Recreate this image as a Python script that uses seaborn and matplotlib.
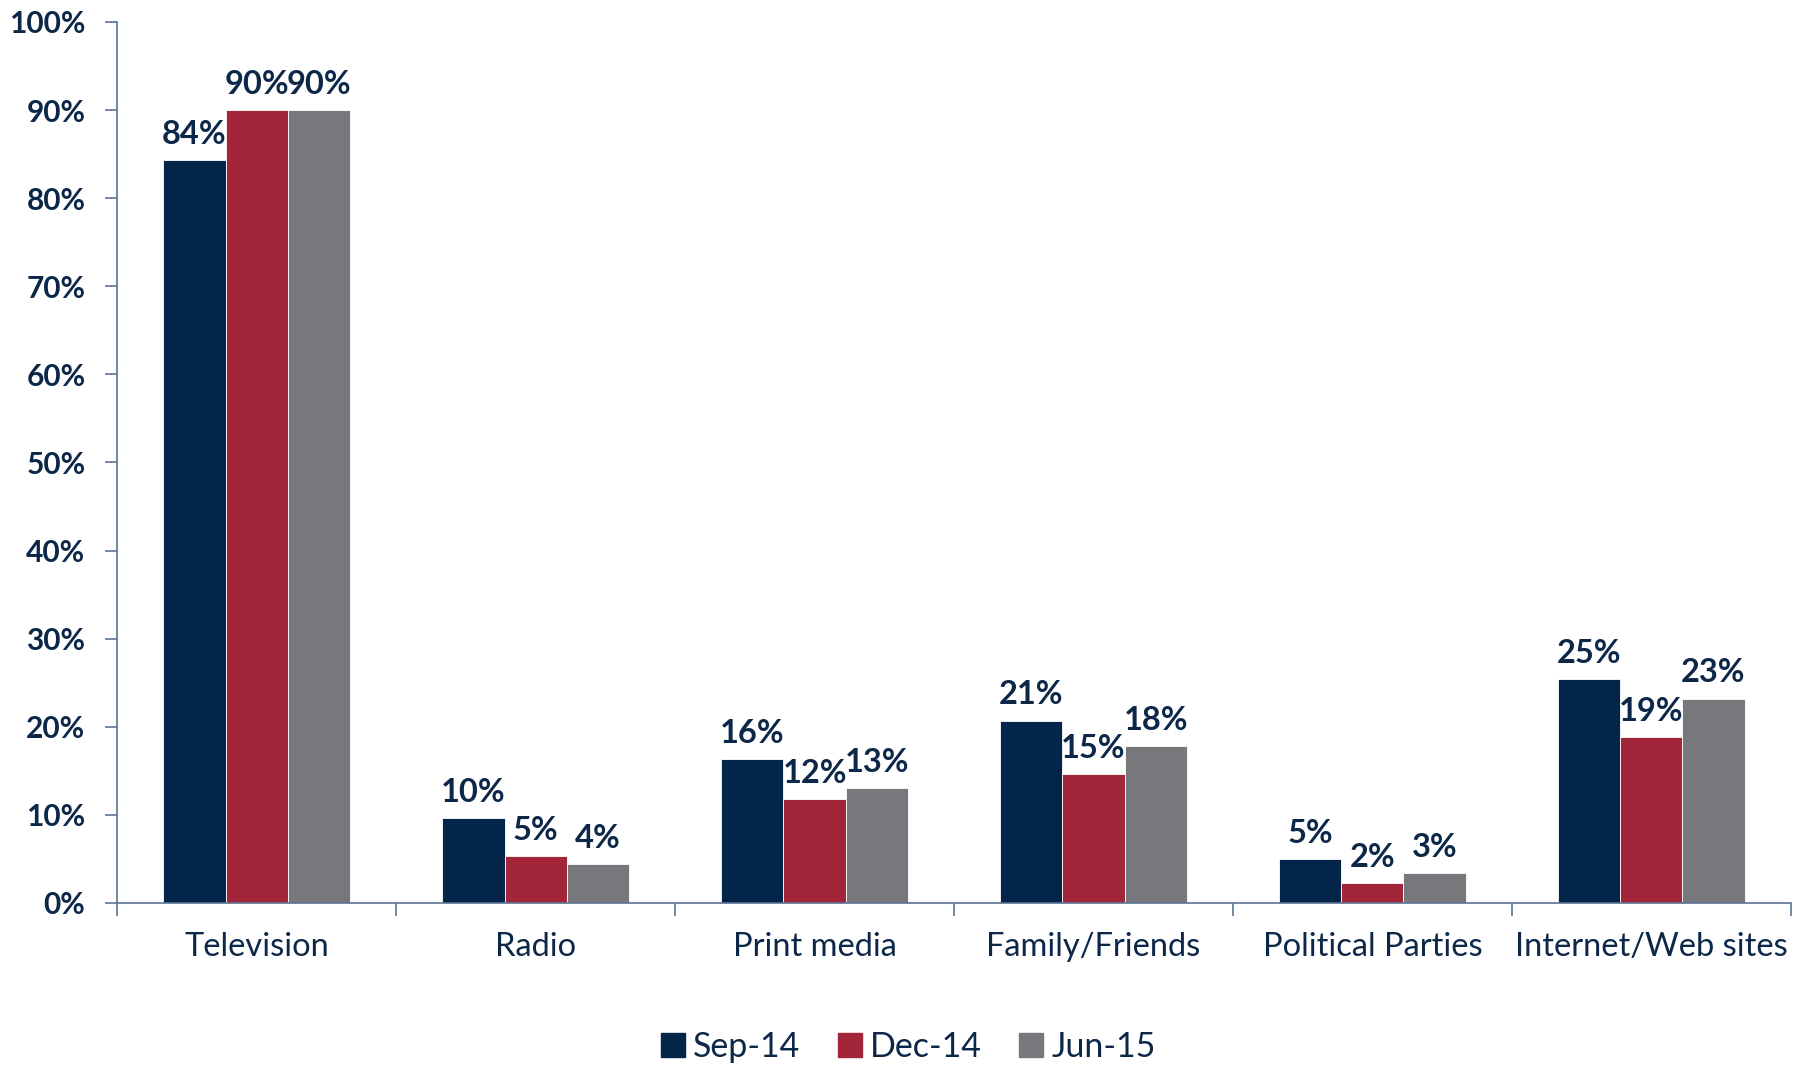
import matplotlib
matplotlib.use("Agg")
import matplotlib.pyplot as plt
from matplotlib.ticker import FixedLocator, MultipleLocator
import seaborn as sns
import pandas as pd

# Share of respondents naming each source of information (%)
categories = ["Television", "Radio", "Print media", "Family/Friends",
              "Political Parties", "Internet/Web sites"]
periods = ["Sep-14", "Dec-14", "Jun-15"]
sep_14 = [84.3, 9.6, 16.3, 20.7, 5.0, 25.4]
dec_14 = [90.0, 5.3, 11.8, 14.6, 2.3, 18.8]
jun_15 = [90.0, 4.4, 13.0, 17.8, 3.4, 23.2]
y_ticks = list(range(0, 101, 10))

colors = ["#03254a", "#a2253a", "#77787c"]
text_color = "#0c2748"
axis_color = "#5b7392"

rows = []
for period, values in zip(periods, [sep_14, dec_14, jun_15]):
    for cat, v in zip(categories, values):
        rows.append({"category": cat, "period": period, "value": v})
df = pd.DataFrame(rows)

sns.set_theme(style="white")
plt.rcParams["font.family"] = ["Lato", "DejaVu Sans"]

fig = plt.figure(figsize=(18.06, 10.66), dpi=100)
ax = fig.add_axes([0.065, 0.153, 0.9265, 0.8264])

sns.barplot(data=df, x="category", y="value", hue="period",
            order=categories, hue_order=periods, palette=colors,
            width=0.67, saturation=1, errorbar=None,
            edgecolor="white", linewidth=0.6, ax=ax)

for container in ax.containers:
    vals = container.datavalues
    ax.bar_label(container, labels=[f"{v:.0f}%" for v in vals],
                 padding=8, fontsize=23.5, fontweight="bold", color=text_color)

ax.set_ylim(0, 100)
ax.set_xlim(-0.5, len(categories) - 0.5)
ax.yaxis.set_major_locator(FixedLocator(y_ticks))
ax.set_yticks(y_ticks)
ax.set_yticklabels([f"{t}%" for t in y_ticks])
ax.set_xlabel("")
ax.set_ylabel("")

# Tick marks between categories, labels at category centres
ax.xaxis.set_minor_locator(MultipleLocator(1, offset=0.5))
ax.tick_params(axis="x", which="major", length=0, pad=21,
               labelsize=23.5, labelcolor=text_color)
ax.tick_params(axis="x", which="minor", bottom=True, length=9,
               width=1.2, color=axis_color, direction="out")
ax.tick_params(axis="y", which="major", left=True, length=9, width=1.2,
               color=axis_color, direction="out", pad=14,
               labelsize=21.5, labelcolor=text_color)
for lbl in ax.get_yticklabels():
    lbl.set_fontweight("bold")

for side in ["top", "right"]:
    ax.spines[side].set_visible(False)
for side in ["left", "bottom"]:
    ax.spines[side].set_color(axis_color)
    ax.spines[side].set_linewidth(1.2)
ax.grid(False)

ax.legend_.remove()
handles = [plt.Rectangle((0, 0), 1, 1, color=c) for c in colors]
fig.legend(handles, periods, loc="center", bbox_to_anchor=(0.503, 0.018),
           ncol=3, frameon=False, fontsize=24.5, labelcolor=text_color,
           handlelength=0.7, handleheight=0.7, handletextpad=0.25,
           columnspacing=1.1)

fig.savefig("out.png", dpi=100)
